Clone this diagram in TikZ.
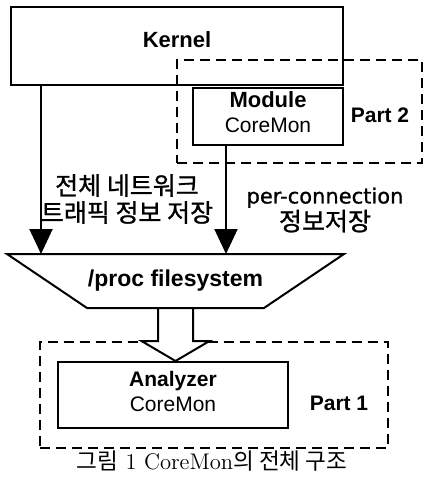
\documentclass[tikz,border=0pt]{standalone}
\usepackage{fontspec}
\setsansfont{Liberation Sans}
\newfontfamily\kor{Noto Sans CJK KR}
\newfontfamily\korb{Noto Sans CJK KR}[FakeBold=1]
\newfontfamily\gul{DejaVu Sans}[FakeBold=0.8]
\usetikzlibrary{arrows.meta, positioning, calc}

\begin{document}
\begin{tikzpicture}[x=0.5pt, y=-0.5pt, line width=1pt,
        box/.style={draw, fill=white, inner sep=0pt, align=center, font=\sffamily\fontsize{10.5}{12.5}\selectfont},
        part/.style={draw, dash pattern=on 5pt off 3pt, inner sep=0pt},
        arr/.style={-{Triangle[length=12.5pt, width=11.5pt]}},
        lbl/.style={font=\sffamily\bfseries\fontsize{10.5}{12}\selectfont}]
        \useasboundingbox (0,0) rectangle (426,482);

        % Kernel and module (Part 2)
        \node[box, minimum width=166pt, minimum height=39pt, text depth=6pt, font=\sffamily\bfseries\fontsize{11}{12}\selectfont] (kernel) at (177,46) {Kernel};
        \node[part, minimum width=122.5pt, minimum height=51.5pt] (part2) at (299.5,111.5) {};
        \node[box, minimum width=75pt, minimum height=28.5pt, text depth=4pt] (module) at (268,116.5) {{\fontsize{11}{12.5}\selectfont\bfseries Module}\\CoreMon};
        \node[lbl] (p2) at (380,115) {Part 2};

        % /proc filesystem
        \node[minimum width=167.5pt, minimum height=26pt, inner sep=0pt, font=\sffamily\bfseries\fontsize{11.5}{13}\selectfont] (fs) at (175.5,281) {/proc filesystem};

        % Analyzer (Part 1)
        \node[part, minimum width=174pt, minimum height=53pt] (part1) at (214,395) {};
        \node[box, minimum width=115pt, minimum height=33pt, text depth=3.5pt] (analyzer) at (173,395) {\textbf{Analyzer}\\CoreMon};
        \node[lbl] (p1) at (339,403) {Part 1};

        % Arrows into /proc
        \draw[arr] ([xshift=15.5pt]kernel.south west) coordinate (k1) -- (k1 |- fs.north);
        \draw[arr] ([xshift=17pt]module.south west) coordinate (m1) -- (m1 |- fs.north);
        \node[font=\korb\fontsize{12.5}{13.5}\selectfont, align=center] (l1) at (127,199) {전체 네트워크\\트래픽 정보 저장};
        \node[font=\fontsize{10.5}{13.5}\selectfont, align=center] (l2) at (325,210) {{\gul per-connection}\\{\korb\fontsize{12.5}{13.5}\selectfont 정보저장}};

        % Hollow arrow to analyzer
        \draw[fill=white, line join=miter] ($(fs.south)+(-17.5,0)$) -- ($(fs.south |- analyzer.north)+(-17.5,-20)$) -- ++(-16.5,0) -- (fs.south |- analyzer.north) -- ++(34,-20) -- ++(-16.5,0) -- ($(fs.south)+(17.5,0)$);
        \draw (fs.north west) -- (fs.north east) -- ($(fs.south east)+(-80,0)$) -- ($(fs.south west)+(80,0)$) -- cycle;

        % Caption
        \node[font=\fontsize{11.3}{12}\selectfont] (cap) at (212,461) {{\kor 그림} 1 CoreMon{\kor 의 전체 구조}};
\end{tikzpicture}
\end{document}
